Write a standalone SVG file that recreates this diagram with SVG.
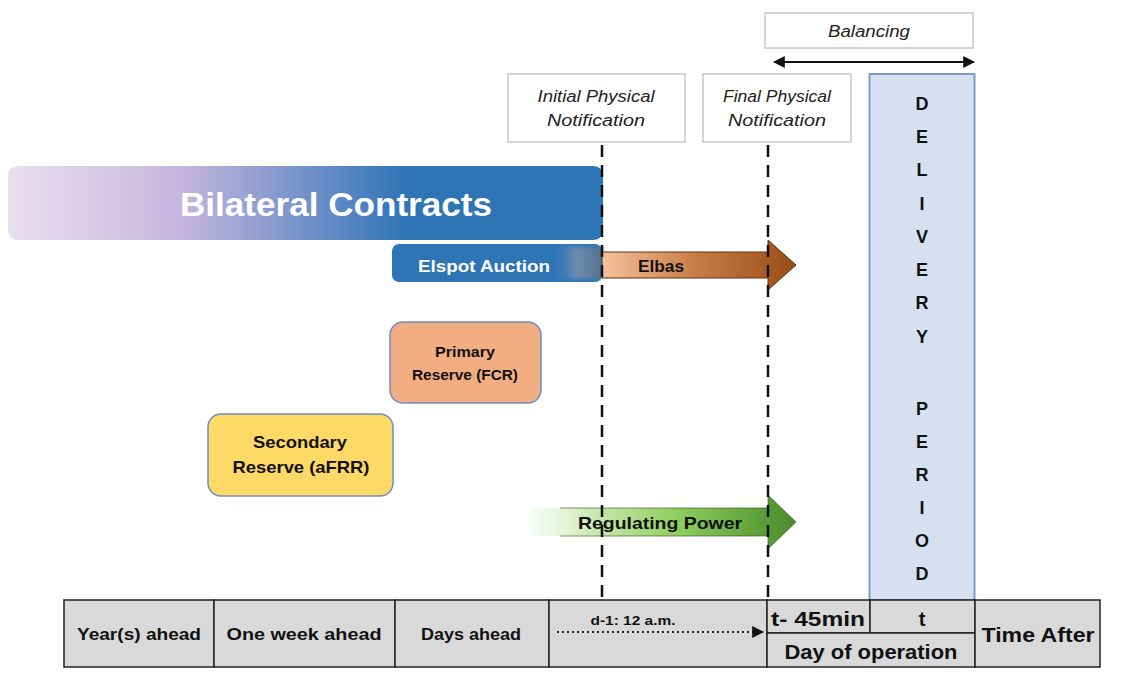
<svg xmlns="http://www.w3.org/2000/svg" width="1129" height="697" viewBox="0 0 1129 697">
<defs>
<style>
.t{font-family:"Liberation Sans","DejaVu Sans",sans-serif;font-weight:bold;fill:#111}
.it{font-family:"Liberation Sans","DejaVu Sans",sans-serif;font-style:italic;font-size:16px;fill:#222}
.cell{fill:#d9d9d9;stroke:#222;stroke-width:1.5}
.dash{stroke:#111;stroke-width:2.5;stroke-dasharray:12,8;fill:none}
.note{fill:#fff;stroke:#c8c8c8;stroke-width:1.5}
</style>
<linearGradient id="bil" x1="0" x2="1" y1="0" y2="0">
<stop offset="0" stop-color="#e6dcee" stop-opacity="0.9"/>
<stop offset="0.3" stop-color="#c2b4dc"/>
<stop offset="0.52" stop-color="#6b8ec8"/>
<stop offset="0.67" stop-color="#2e75b6"/>
<stop offset="1" stop-color="#2e75b6"/>
</linearGradient>
<linearGradient id="elspotfade" x1="0" x2="1" y1="0" y2="0">
<stop offset="0" stop-color="#2e75b6" stop-opacity="0"/>
<stop offset="0.5" stop-color="#7d95ad" stop-opacity="0.8"/>
<stop offset="1" stop-color="#5a6f88" stop-opacity="0.9"/>
</linearGradient>
<linearGradient id="elbas" x1="602" x2="796" y1="0" y2="0" gradientUnits="userSpaceOnUse">
<stop offset="0" stop-color="#f4c19c"/>
<stop offset="0.5" stop-color="#c77a43"/>
<stop offset="1" stop-color="#9a4c17"/>
</linearGradient>
<linearGradient id="reg" x1="530" x2="796" y1="0" y2="0" gradientUnits="userSpaceOnUse">
<stop offset="0" stop-color="#e6f4dc" stop-opacity="0.3"/>
<stop offset="0.25" stop-color="#c7e8ad"/>
<stop offset="0.55" stop-color="#8fcf5e"/>
<stop offset="1" stop-color="#4a8a2a"/>
</linearGradient>
<marker id="ah" viewBox="0 0 10 10" refX="9" refY="5" markerWidth="6" markerHeight="6" orient="auto-start-reverse">
<path d="M0,0 L10,5 L0,10 z" fill="#111"/>
</marker>
<filter id="soft" x="-5%" y="-20%" width="110%" height="140%"><feGaussianBlur stdDeviation="2"/></filter>
</defs>

<g id="balancing">
<rect class="note" x="765" y="13" width="208" height="35"/>
<text class="it" x="869" y="37" text-anchor="middle" textLength="82" lengthAdjust="spacingAndGlyphs">Balancing</text>
</g>

<g id="delivery">
<rect x="869.5" y="74" width="105" height="526" fill="#d6e0f1" stroke="#7b9bc6" stroke-width="2"/>
<g class="t" font-size="18" text-anchor="middle">
<text x="922" y="110">D</text>
<text x="922" y="143">E</text>
<text x="922" y="176">L</text>
<text x="922" y="210">I</text>
<text x="922" y="243">V</text>
<text x="922" y="276">E</text>
<text x="922" y="309">R</text>
<text x="922" y="343">Y</text>
<text x="922" y="415">P</text>
<text x="922" y="448">E</text>
<text x="922" y="481">R</text>
<text x="922" y="514">I</text>
<text x="922" y="547">O</text>
<text x="922" y="580">D</text>
</g>
</g>

<g id="initial-notification">
<rect class="note" x="508" y="74" width="177" height="68"/>
<text class="it" x="596" y="102" text-anchor="middle" textLength="117" lengthAdjust="spacingAndGlyphs">Initial Physical</text>
<text class="it" x="596" y="126" text-anchor="middle" textLength="98" lengthAdjust="spacingAndGlyphs">Notification</text>
</g>

<g id="final-notification">
<rect class="note" x="703" y="74" width="148" height="68"/>
<text class="it" x="777" y="102" text-anchor="middle" textLength="108" lengthAdjust="spacingAndGlyphs">Final Physical</text>
<text class="it" x="777" y="126" text-anchor="middle" textLength="98" lengthAdjust="spacingAndGlyphs">Notification</text>
</g>

<g id="bilateral">
<rect x="8" y="166" width="595" height="74" rx="9" fill="url(#bil)"/>
<text x="336" y="216" text-anchor="middle" font-family="'Liberation Sans','DejaVu Sans',sans-serif" font-weight="bold" font-size="33" fill="#fff" textLength="312" lengthAdjust="spacingAndGlyphs">Bilateral Contracts</text>
</g>

<g id="elspot">
<rect x="392" y="244" width="210" height="38" rx="7" fill="#2e75b6"/>
<rect x="550" y="247" width="52" height="32" fill="url(#elspotfade)" filter="url(#soft)"/>
<text x="484" y="272" text-anchor="middle" font-family="'Liberation Sans','DejaVu Sans',sans-serif" font-weight="bold" font-size="17" fill="#fff" textLength="132" lengthAdjust="spacingAndGlyphs">Elspot Auction</text>
</g>

<g id="elbas">
<path d="M602,252 L768,252 L768,240 L796,265 L768,290 L768,278 L602,278 z" fill="url(#elbas)" stroke="#5a3410" stroke-width="1"/>
<text class="t" x="661" y="272" text-anchor="middle" font-size="17" textLength="46" lengthAdjust="spacingAndGlyphs">Elbas</text>
</g>

<g id="primary">
<rect x="390" y="322" width="151" height="81" rx="13" fill="#f2ad83" stroke="#6f8fbf" stroke-width="1.5"/>
<text class="t" x="465" y="357" text-anchor="middle" font-size="14" textLength="60" lengthAdjust="spacingAndGlyphs">Primary</text>
<text class="t" x="465" y="380" text-anchor="middle" font-size="14" textLength="106" lengthAdjust="spacingAndGlyphs">Reserve (FCR)</text>
</g>

<g id="secondary">
<rect x="208" y="414" width="185" height="82" rx="13" fill="#ffd966" stroke="#6f8fbf" stroke-width="1.5"/>
<text class="t" x="300" y="448" text-anchor="middle" font-size="17" textLength="94" lengthAdjust="spacingAndGlyphs">Secondary</text>
<text class="t" x="301" y="473" text-anchor="middle" font-size="17" textLength="137" lengthAdjust="spacingAndGlyphs">Reserve (aFRR)</text>
</g>

<g id="regulating">
<path d="M530,508 L768,508 L768,495 L796,522 L768,549 L768,536 L530,536 z" fill="url(#reg)"/>
<path d="M560,508 L768,508 L768,495 L796,522 L768,549 L768,536 L560,536" fill="none" stroke="#2f4a20" stroke-width="1" stroke-opacity="0.6"/>
<text class="t" x="660" y="529" text-anchor="middle" font-size="17" textLength="164" lengthAdjust="spacingAndGlyphs">Regulating Power</text>
</g>

<g id="connectors">
<line class="dash" x1="602" y1="145" x2="602" y2="598"/>
<line class="dash" x1="768" y1="145" x2="768" y2="598"/>
<line x1="774" y1="62" x2="974" y2="62" stroke="#111" stroke-width="2" marker-start="url(#ah)" marker-end="url(#ah)"/>
</g>

<g id="timeline">
<rect class="cell" x="64" y="600" width="150" height="67"/>
<rect class="cell" x="214" y="600" width="181" height="67"/>
<rect class="cell" x="395" y="600" width="154" height="67"/>
<rect class="cell" x="549" y="600" width="218" height="67"/>
<rect class="cell" x="767" y="600" width="103" height="33"/>
<rect class="cell" x="870" y="600" width="105" height="33"/>
<rect class="cell" x="767" y="633" width="208" height="34"/>
<rect class="cell" x="975" y="600" width="125" height="67"/>
<text class="t" x="139" y="640" text-anchor="middle" font-size="17" textLength="124" lengthAdjust="spacingAndGlyphs">Year(s) ahead</text>
<text class="t" x="304" y="640" text-anchor="middle" font-size="17" textLength="155" lengthAdjust="spacingAndGlyphs">One week ahead</text>
<text class="t" x="471" y="640" text-anchor="middle" font-size="17" textLength="100" lengthAdjust="spacingAndGlyphs">Days ahead</text>
<text class="t" x="633" y="625" text-anchor="middle" font-size="13" textLength="85" lengthAdjust="spacingAndGlyphs">d-1: 12 a.m.</text>
<line x1="557" y1="632" x2="763" y2="632" stroke="#222" stroke-width="2" stroke-dasharray="2,3" marker-end="url(#ah)"/>
<text class="t" x="818" y="626" text-anchor="middle" font-size="20" textLength="94" lengthAdjust="spacingAndGlyphs">t- 45min</text>
<text class="t" x="922" y="626" text-anchor="middle" font-size="20">t</text>
<text class="t" x="871" y="659" text-anchor="middle" font-size="20" textLength="173" lengthAdjust="spacingAndGlyphs">Day of operation</text>
<text class="t" x="1038" y="642" text-anchor="middle" font-size="21" textLength="113" lengthAdjust="spacingAndGlyphs">Time After</text>
</g>
</svg>
